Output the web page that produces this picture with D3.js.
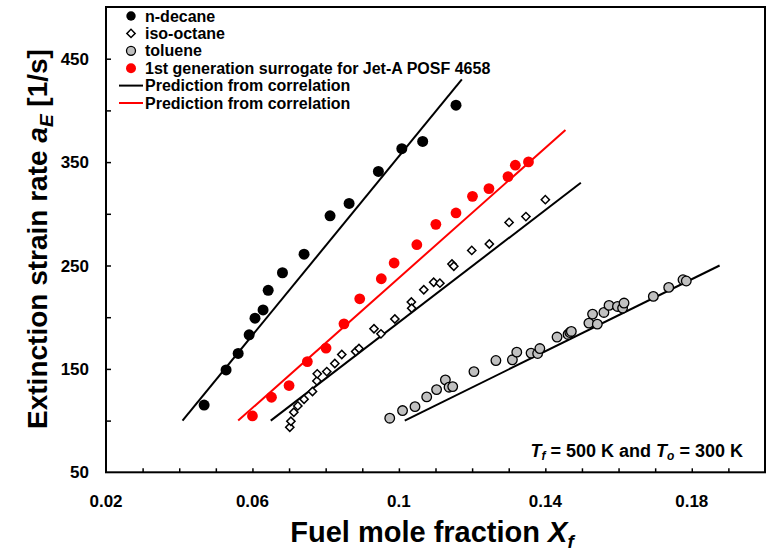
<!DOCTYPE html>
<html>
<head>
<meta charset="utf-8">
<script src="https://cdn.jsdelivr.net/npm/d3@7"></script>
<style>
  html, body { margin: 0; padding: 0; background: #fff; }
  svg { display: block; font-family: "Liberation Sans", Arial, sans-serif; font-weight: bold; }
</style>
</head>
<body>
<svg id="chart" width="767" height="553"></svg>
<script>
// Extinction strain rate vs. fuel mole fraction, Tf = 500 K, To = 300 K

// n-decane measurements [X_f, a_E]
const decaneX = [0.0468, 0.0528, 0.0561, 0.0591, 0.0607, 0.0629, 0.0643, 0.0682, 0.0741, 0.0812, 0.0864, 0.0944, 0.1008, 0.1065, 0.1156];
const decaneA = [115, 149, 165, 183, 199, 207, 226, 243, 261, 298, 310, 341, 363, 370, 405];

// iso-octane measurements
const isoX = [0.0702, 0.0705, 0.0713, 0.0724, 0.0741, 0.0764, 0.0776, 0.0777, 0.0803, 0.0825, 0.0844, 0.0882, 0.0891, 0.0932,
              0.0951, 0.0989, 0.1034, 0.1035, 0.1068, 0.1095, 0.1112, 0.1145, 0.1150, 0.1199, 0.1247, 0.1301, 0.1347, 0.1400];
const isoA = [93.6, 99.4, 108.1, 114.2, 120.7, 128.1, 138.4, 145.2, 147.4, 155.2, 163.9, 166.8, 169.7, 188.8,
              183.9, 198.3, 214.7, 208.6, 226.6, 233.8, 232.9, 251.5, 249.3, 264.6, 270.8, 291.7, 297.3, 313.7];

// toluene measurements
const tolX = [0.0975, 0.1010, 0.1044, 0.1076, 0.1103, 0.1127, 0.1137, 0.1147, 0.1205, 0.1265, 0.1310, 0.1322, 0.1361, 0.1379,
              0.1385, 0.1432, 0.1462, 0.1467, 0.1471, 0.1519, 0.1529, 0.1542, 0.1560, 0.1574, 0.1597, 0.1611, 0.1615, 0.1695,
              0.1737, 0.1776, 0.1785];
const tolA = [102.3, 109.7, 113.5, 122.9, 130.0, 139.4, 132.3, 132.9, 147.4, 158.1, 158.8, 166.2, 165.3, 164.9,
              169.7, 180.8, 183.3, 185.2, 186.2, 194.3, 203.0, 193.3, 204.6, 211.4, 210.4, 208.8, 213.7, 220.1,
              228.8, 236.2, 235.0];

// 1st generation surrogate for Jet-A POSF 4658
const surX = [0.0600, 0.0652, 0.0700, 0.0750, 0.0801, 0.0850, 0.0893, 0.0952, 0.0987, 0.1049, 0.1101, 0.1156, 0.1201,
              0.1246, 0.1298, 0.1318, 0.1354];
const surA = [104.5, 122.6, 133.9, 157.1, 170.1, 193.6, 217.8, 237.2, 252.4, 270.1, 289.8, 300.8, 316.9,
              324.4, 336.0, 347.0, 350.2];

// correlation predictions (end points)
const predDecaneX = [0.0409, 0.1172];
const predDecaneA = [100, 430];
const predIsoX = [0.0650, 0.1497];
const predIsoA = [100, 330];
const predTolX = [0.1016, 0.1876];
const predTolA = [100, 250];
const predSurX = [0.0561, 0.1455];
const predSurA = [100, 381];

// axes
const xDomain = [0.02, 0.20];
const yDomain = [50, 500];
const xTickLabels = [0.02, 0.06, 0.1, 0.14, 0.18];
const yTickLabels = [50, 150, 250, 350, 450];

const legendLabels = ["n-decane", "iso-octane", "toluene", "1st generation surrogate for Jet-A POSF 4658",
                      "Prediction from correlation", "Prediction from correlation"];

const svg = d3.select("#chart");
const plotL = 106, plotR = 765, plotT = 7, plotB = 472.3;

const x = d3.scaleLinear().domain(xDomain).range([plotL, plotR]);
const y = d3.scaleLinear().domain(yDomain).range([plotB, plotT]);

const zip = (xs, ys) => xs.map((v, i) => [v, ys[i]]);

// ticks (pointing inward)
const xMinor = d3.range(0.03, 0.1951, 0.01);
const yMinor = d3.range(100, 451, 50);

const xAxis = d3.axisBottom(x).tickValues(xMinor).tickSize(-4).tickFormat("");
svg.append("g").attr("transform", `translate(0,${plotB})`).call(xAxis)
  .call(g => g.select(".domain").remove())
  .call(g => g.selectAll("line").attr("stroke", "#000").attr("stroke-width", 1.5));

const yAxis = d3.axisLeft(y).tickValues(yMinor).tickSize(-5).tickFormat("");
svg.append("g").attr("transform", `translate(${plotL},0)`).call(yAxis)
  .call(g => g.select(".domain").remove())
  .call(g => g.selectAll("line").attr("stroke", "#000").attr("stroke-width", 1.5));

// tick labels
svg.append("g").selectAll("text").data(xTickLabels).join("text")
  .attr("x", d => x(d)).attr("y", 507)
  .attr("text-anchor", "middle").attr("font-size", 17)
  .text(d => d);

svg.append("g").selectAll("text").data(yTickLabels).join("text")
  .attr("x", 89).attr("y", d => y(d) + 6)
  .attr("text-anchor", "end").attr("font-size", 17)
  .text(d => d);

// frame
svg.append("rect")
  .attr("x", plotL).attr("y", plotT)
  .attr("width", plotR - plotL).attr("height", plotB - plotT)
  .attr("fill", "none").attr("stroke", "#000").attr("stroke-width", 2);

// prediction lines
const line = d3.line().x(d => x(d[0])).y(d => y(d[1]));
const preds = [
  { pts: zip(predDecaneX, predDecaneA), color: "#000" },
  { pts: zip(predIsoX, predIsoA), color: "#000" },
  { pts: zip(predTolX, predTolA), color: "#000" },
  { pts: zip(predSurX, predSurA), color: "#ff0000" }
];
svg.append("g").selectAll("path").data(preds).join("path")
  .attr("d", d => line(d.pts))
  .attr("fill", "none").attr("stroke", d => d.color).attr("stroke-width", 2);

// measurement markers
const diamond = d3.symbol(d3.symbolSquare, 34);

svg.append("g").selectAll("circle").data(zip(decaneX, decaneA)).join("circle")
  .attr("cx", d => x(d[0])).attr("cy", d => y(d[1])).attr("r", 5.5)
  .attr("fill", "#000");

svg.append("g").selectAll("path").data(zip(isoX, isoA)).join("path")
  .attr("d", diamond)
  .attr("transform", d => `translate(${x(d[0])},${y(d[1])}) rotate(45)`)
  .attr("fill", "#fff").attr("stroke", "#000").attr("stroke-width", 1.5);

svg.append("g").selectAll("circle").data(zip(tolX, tolA)).join("circle")
  .attr("cx", d => x(d[0])).attr("cy", d => y(d[1])).attr("r", 4.8)
  .attr("fill", "#c0c0c0").attr("stroke", "#000").attr("stroke-width", 1.3);

svg.append("g").selectAll("circle").data(zip(surX, surA)).join("circle")
  .attr("cx", d => x(d[0])).attr("cy", d => y(d[1])).attr("r", 5.4)
  .attr("fill", "#ff0000");

// legend
const lg = svg.append("g");
const rowY = i => 16 + i * 17.4;
const mx = 131;
lg.append("circle").attr("cx", mx).attr("cy", rowY(0)).attr("r", 4.7).attr("fill", "#000");
lg.append("path").attr("d", diamond).attr("transform", `translate(${mx},${rowY(1)}) rotate(45)`)
  .attr("fill", "#fff").attr("stroke", "#000").attr("stroke-width", 1.5);
lg.append("circle").attr("cx", mx).attr("cy", rowY(2)).attr("r", 4.5)
  .attr("fill", "#c0c0c0").attr("stroke", "#000").attr("stroke-width", 1.3);
lg.append("circle").attr("cx", mx).attr("cy", rowY(3)).attr("r", 5).attr("fill", "#ff0000");
lg.append("line").attr("x1", 119).attr("x2", 143).attr("y1", rowY(4)).attr("y2", rowY(4))
  .attr("stroke", "#000").attr("stroke-width", 2);
lg.append("line").attr("x1", 119).attr("x2", 143).attr("y1", rowY(5)).attr("y2", rowY(5))
  .attr("stroke", "#ff0000").attr("stroke-width", 2);
lg.selectAll("text").data(legendLabels).join("text")
  .attr("x", 145).attr("y", (d, i) => rowY(i) + 5.5)
  .attr("font-size", 16).text(d => d);

// condition annotation
const ann = svg.append("text").attr("x", 743).attr("y", 457).attr("text-anchor", "end").attr("font-size", 18);
ann.append("tspan").attr("font-style", "italic").text("T");
ann.append("tspan").attr("font-style", "italic").attr("font-size", 12).attr("dy", 3).text("f");
ann.append("tspan").attr("dy", -3).text(" = 500 K and ");
ann.append("tspan").attr("font-style", "italic").text("T");
ann.append("tspan").attr("font-style", "italic").attr("font-size", 12).attr("dy", 3).text("o");
ann.append("tspan").attr("dy", -3).text(" = 300 K");

// axis titles
const xt = svg.append("text").attr("x", 432).attr("y", 542).attr("text-anchor", "middle").attr("font-size", 29);
xt.append("tspan").text("Fuel mole fraction ");
xt.append("tspan").attr("font-style", "italic").text("X");
xt.append("tspan").attr("font-style", "italic").attr("font-size", 19).attr("dy", 6).text("f");

const yt = svg.append("text").attr("transform", "translate(47,239) rotate(-90)")
  .attr("text-anchor", "middle").attr("font-size", 28);
yt.append("tspan").text("Extinction strain rate ");
yt.append("tspan").attr("font-style", "italic").text("a");
yt.append("tspan").attr("font-style", "italic").attr("font-size", 19).attr("dy", 6).text("E");
yt.append("tspan").attr("dy", -6).text(" [1/s]");
</script>
</body>
</html>
